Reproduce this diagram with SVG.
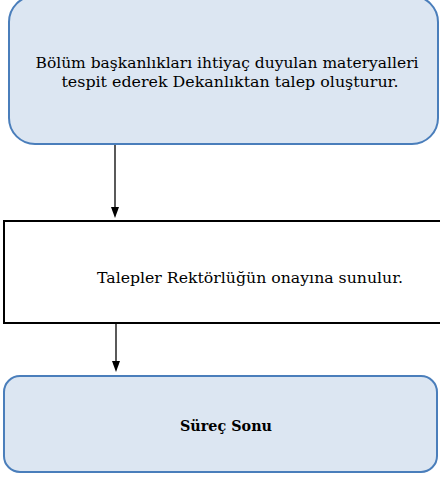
<svg xmlns="http://www.w3.org/2000/svg" width="440" height="479" viewBox="0 0 440 479">
<style>
.term{fill:#DCE6F2;stroke:#4A7EBB;stroke-width:2}
.proc{fill:#FFFFFF;stroke:#000000;stroke-width:2}
.t{font-family:'DejaVu Serif','Liberation Serif',serif;font-size:14px;fill:#000;text-anchor:middle}
.b{font-weight:bold}
.c{stroke:#000;stroke-width:1.3;fill:none}
</style>
<g id="n1">
<rect class="term" x="9" y="-4" width="429" height="148" rx="26" ry="26"/>
<text class="t" x="227" y="68" textLength="383" lengthAdjust="spacingAndGlyphs">Bölüm başkanlıkları ihtiyaç duyulan materyalleri</text>
<text class="t" x="230" y="87" textLength="337" lengthAdjust="spacingAndGlyphs">tespit ederek Dekanlıktan talep oluşturur.</text>
</g>
<g id="n2">
<rect class="proc" x="4" y="221" width="446" height="102"/>
<text class="t" x="250" y="283" textLength="306" lengthAdjust="spacingAndGlyphs">Talepler Rektörlüğün onayına sunulur.</text>
</g>
<g id="n3">
<rect class="term" x="4" y="376" width="433" height="96" rx="16" ry="16"/>
<text class="t b" x="226" y="431" textLength="92" lengthAdjust="spacingAndGlyphs">Süreç Sonu</text>
</g>
<g id="connectors">
<line class="c" x1="115" y1="145" x2="115" y2="208"/>
<path d="M111,207 L119,207 L115,218 Z" fill="#000"/>
<line class="c" x1="116" y1="324" x2="116" y2="362"/>
<path d="M112,361 L120,361 L116,372 Z" fill="#000"/>
</g>
</svg>
